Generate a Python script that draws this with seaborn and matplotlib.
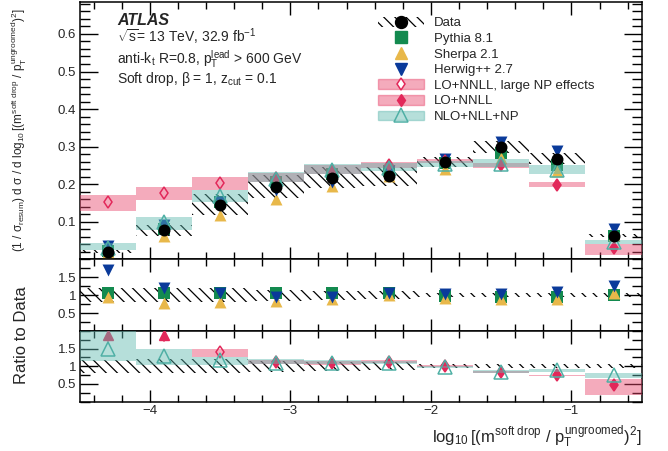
import numpy as np
import pandas as pd
import matplotlib
matplotlib.use("Agg")
import matplotlib.pyplot as plt
import seaborn as sns
from matplotlib.patches import Patch
from matplotlib.lines import Line2D
from matplotlib.ticker import MultipleLocator, FixedLocator, FuncFormatter

# ---- binning in log10[(m_sd / pT_ungroomed)^2] ----
bin_edges = [-4.5, -4.1, -3.7, -3.3, -2.9, -2.5, -2.1, -1.7, -1.3, -0.9, -0.5]

# ---- unfolded data ----
data_val = [0.021, 0.077, 0.145, 0.194, 0.217, 0.221, 0.259, 0.300, 0.268, 0.063]
data_err = [0.004, 0.015, 0.028, 0.030, 0.028, 0.026, 0.013, 0.016, 0.014, 0.004]

# ---- MC generators ----
pythia = [0.022, 0.082, 0.152, 0.206, 0.228, 0.234, 0.256, 0.282, 0.252, 0.063]
sherpa = [0.020, 0.061, 0.119, 0.162, 0.195, 0.221, 0.241, 0.270, 0.236, 0.066]
herwig = [0.036, 0.092, 0.152, 0.184, 0.206, 0.234, 0.267, 0.312, 0.289, 0.080]

# ---- analytic calculations ----
nan = np.nan
lo_nnll_np = [0.152, 0.178, 0.203, nan, nan, nan, nan, nan, nan, nan]
lo_nnll_np_lo = [0.130, 0.159, 0.185, nan, nan, nan, nan, nan, nan, nan]
lo_nnll_np_hi = [0.172, 0.194, 0.218, nan, nan, nan, nan, nan, nan, nan]

lo_nnll = [nan, nan, nan, 0.217, 0.236, 0.250, 0.262, 0.250, 0.199, 0.030]
lo_nnll_lo = [nan, nan, nan, 0.205, 0.226, 0.244, 0.256, 0.244, 0.194, 0.012]
lo_nnll_hi = [nan, nan, nan, 0.230, 0.250, 0.258, 0.268, 0.256, 0.205, 0.041]

nlo_nll_np = [0.031, 0.100, 0.170, 0.214, 0.238, 0.242, 0.254, 0.255, 0.239, 0.047]
nlo_nll_np_lo = [0.024, 0.079, 0.152, 0.205, 0.228, 0.236, 0.246, 0.246, 0.228, 0.042]
nlo_nll_np_hi = [0.043, 0.114, 0.184, 0.232, 0.254, 0.257, 0.261, 0.266, 0.250, 0.051]

# ---- colours ----
c_pythia = "#138a4f"
c_sherpa = "#e8b84a"
c_herwig = "#0a3a9a"
c_pink = "#e8456b"
c_pink_mk = "#e2285a"
c_teal = "#5fb8ae"
c_teal_mk = "#4fb0a5"

sns.set_theme(style="ticks")
plt.rcParams.update({
    "font.family": ["Liberation Sans", "DejaVu Sans"],
    "mathtext.fontset": "custom",
    "mathtext.rm": "Liberation Sans",
    "mathtext.it": "Liberation Sans",
    "mathtext.bf": "Liberation Sans:bold",
    "hatch.color": "black",
    "hatch.linewidth": 0.9,
    "axes.linewidth": 1.1,
    "axes.edgecolor": "black",
})

edges = np.array(bin_edges)
centers = 0.5 * (edges[:-1] + edges[1:])
widths = np.diff(edges)
dv = np.array(data_val)
de = np.array(data_err)

W, H = 668, 451
fig = plt.figure(figsize=(W / 100, H / 100), dpi=100)
L, R = 79.5, 641.7


def add_panel(y_top, y_bot):
    return fig.add_axes([L / W, 1 - y_bot / H, (R - L) / W, (y_bot - y_top) / H])


ax_top = add_panel(2, 259.4)
ax_mc = add_panel(259.4, 331)
ax_th = add_panel(331, 401.5)

HATCH = "\\\\\\"


def band(ax, lo, hi, zorder, **kw):
    lo = np.asarray(lo, float)
    hi = np.asarray(hi, float)
    m = ~np.isnan(lo)
    ax.bar(centers[m], (hi - lo)[m], bottom=lo[m], width=widths[m],
           align="center", zorder=zorder, **kw)


def data_band(ax, lo, hi):
    band(ax, lo, hi, 1, fill=False, hatch=HATCH, edgecolor="black", linewidth=0)


def mc_markers(ax, ratio=False):
    for vals, mk, col, sz in [(pythia, "s", c_pythia, 70),
                              (sherpa, "^", c_sherpa, 74),
                              (herwig, "v", c_herwig, 74)]:
        y = np.array(vals) / dv if ratio else np.array(vals)
        df = pd.DataFrame({"x": centers, "y": y})
        sns.scatterplot(data=df, x="x", y="y", ax=ax, marker=mk, s=sz,
                        color=col, linewidth=0, zorder=3, legend=False)


def theory(ax, ratio=False, ymax=None):
    norm = dv if ratio else 1.0
    specs = [
        (lo_nnll_np, lo_nnll_np_lo, lo_nnll_np_hi, c_pink, c_pink_mk, "d", "none", 6.5, 4),
        (lo_nnll, lo_nnll_lo, lo_nnll_hi, c_pink, c_pink_mk, "d", c_pink_mk, 6.5, 4),
        (nlo_nll_np, nlo_nll_np_lo, nlo_nll_np_hi, c_teal, c_teal_mk, "^", "none", 9.5, 6),
    ]
    for val, lo, hi, cband, cmk, mk, mfc, ms, z in specs:
        v = np.array(val) / norm
        band(ax, np.array(lo) / norm, np.array(hi) / norm, z,
             color=cband, alpha=0.45, linewidth=0)
        inside = ~np.isnan(v)
        if ymax is not None:
            over = inside & (v > ymax)
            inside = inside & (v <= ymax)
            # out-of-range values shown as arrows at the top of the panel
            for xc in centers[over]:
                ax.plot([xc, xc], [ymax - 0.28, ymax - 0.12], color=cmk, lw=1.2, zorder=z - 1)
                ax.plot([xc], [ymax - 0.12], marker="^", ms=7, color=cmk,
                        mec=cmk, ls="", zorder=z - 1)
        ax.plot(centers[inside], v[inside], ls="", marker=mk, ms=ms, mfc=mfc,
                mec=cmk, mew=1.1, color=cmk, zorder=z + 1)


def data_points(ax, y):
    df = pd.DataFrame({"x": centers, "y": y})
    sns.scatterplot(data=df, x="x", y="y", ax=ax, marker="o", s=74,
                    color="black", linewidth=0, zorder=8, legend=False)


# ---- top panel: distributions ----
data_band(ax_top, dv - de, dv + de)
mc_markers(ax_top)
theory(ax_top)
data_points(ax_top, dv)

# ---- middle panel: MC / data ----
data_band(ax_mc, 1 - de / dv, 1 + de / dv)
mc_markers(ax_mc, ratio=True)

# ---- bottom panel: calculations / data ----
data_band(ax_th, 1 - de / dv, 1 + de / dv)
theory(ax_th, ratio=True, ymax=2.0)

# ---- axes styling ----
fmt = FuncFormatter(lambda v, p: f"{v:g}")
for ax in (ax_top, ax_mc, ax_th):
    ax.set_xlim(-4.5, -0.5)
    ax.xaxis.set_major_locator(MultipleLocator(1))
    ax.xaxis.set_minor_locator(MultipleLocator(0.2))
    ax.tick_params(which="both", direction="in", top=True, right=True,
                   labelsize=9.5, pad=2.5, color="black", width=1.0)
    ax.tick_params(axis="x", which="major", length=9)
    ax.tick_params(axis="x", which="minor", length=5)
    ax.tick_params(axis="y", which="major", length=13)
    ax.tick_params(axis="y", which="minor", length=7)
    ax.set_xlabel("")
    ax.set_ylabel("")
    ax.yaxis.set_major_formatter(fmt)
    for s in ax.spines.values():
        s.set_visible(True)
        s.set_linewidth(1.1)

ax_top.set_ylim(0, 0.685)
ax_top.yaxis.set_major_locator(FixedLocator([0.1, 0.2, 0.3, 0.4, 0.5, 0.6]))
ax_top.yaxis.set_minor_locator(MultipleLocator(0.02))
for ax in (ax_mc, ax_th):
    ax.set_ylim(0, 2.0)
    ax.yaxis.set_major_locator(FixedLocator([0.5, 1.0, 1.5]))
    ax.yaxis.set_minor_locator(MultipleLocator(0.25))
for ax in (ax_top, ax_mc):
    ax.tick_params(labelbottom=False)

ax_th.xaxis.set_major_formatter(FuncFormatter(lambda v, p: f"{v:g}".replace("-", "\u2212")))

ax_top.set_ylabel(r"$(1\ /\ \sigma_{\mathrm{resum}})\ \mathrm{d}\ \sigma\ /\ \mathrm{d}\ \log_{10}[(m^{\mathrm{soft\ drop}}\ /\ p_{\mathrm{T}}^{\mathrm{ungroomed}})^{2}]$",
                  fontsize=8.5)
ax_top.yaxis.set_label_coords((29 - L) / (R - L), 0.5)

fig.text(22 / W, 1 - 335 / H, "Ratio to Data", rotation=90, ha="center",
         va="center", fontsize=12)
fig.text(R / W, 1 - 437 / H,
         r"$\log_{10}[(m^{\mathrm{soft\ drop}}\ /\ p_{\mathrm{T}}^{\mathrm{ungroomed}})^{2}]$",
         ha="right", va="center", fontsize=12)

# ---- labels ----
tx = 117 / W
fig.text(tx, 1 - 25 / H, "ATLAS", fontsize=11.5, fontweight="bold",
         fontstyle="italic", va="baseline")
fig.text(tx, 1 - 42.7 / H, r"$\sqrt{s}$= 13 TeV, 32.9 fb$^{-1}$",
         fontsize=10, va="baseline")
fig.text(tx, 1 - 64 / H, r"anti-k$_{\mathrm{t}}$ R=0.8, p$_{\mathrm{T}}^{\mathrm{lead}}$ > 600 GeV",
         fontsize=10, va="baseline")
fig.text(tx, 1 - 83 / H, r"Soft drop, $\beta$ = 1, z$_{\mathrm{cut}}$ = 0.1",
         fontsize=10, va="baseline")

# ---- legend ----
handles = [
    (Patch(facecolor="none", edgecolor="black", hatch=HATCH, linewidth=0),
     Line2D([], [], marker="o", color="black", ms=8.6, ls="")),
    Line2D([], [], marker="s", color=c_pythia, ms=8.4, ls=""),
    Line2D([], [], marker="^", color=c_sherpa, ms=8.6, ls=""),
    Line2D([], [], marker="v", color=c_herwig, ms=8.6, ls=""),
    (Patch(facecolor=c_pink, alpha=0.45, edgecolor=c_pink, linewidth=1.0),
     Line2D([], [], marker="d", mfc="white", mec=c_pink_mk, mew=1.1, ms=6.5, ls="")),
    (Patch(facecolor=c_pink, alpha=0.45, edgecolor=c_pink, linewidth=1.0),
     Line2D([], [], marker="d", color=c_pink_mk, ms=6.5, ls="")),
    (Patch(facecolor=c_teal, alpha=0.45, edgecolor=c_teal, linewidth=1.0),
     Line2D([], [], marker="^", mfc="none", mec=c_teal_mk, mew=1.1, ms=9.5, ls="")),
]
labels = ["Data", "Pythia 8.1", "Sherpa 2.1", "Herwig++ 2.7",
          "LO+NNLL, large NP effects", "LO+NNLL", "NLO+NLL+NP"]
fig.legend(handles, labels, loc="upper left",
           bbox_to_anchor=(378 / W, 1 - 17 / H), bbox_transform=fig.transFigure,
           frameon=False, fontsize=9.5, borderpad=0, borderaxespad=0,
           handlelength=3.5, handleheight=0.75, handletextpad=0.75,
           labelspacing=0.24)

fig.savefig("out.png", dpi=100)
